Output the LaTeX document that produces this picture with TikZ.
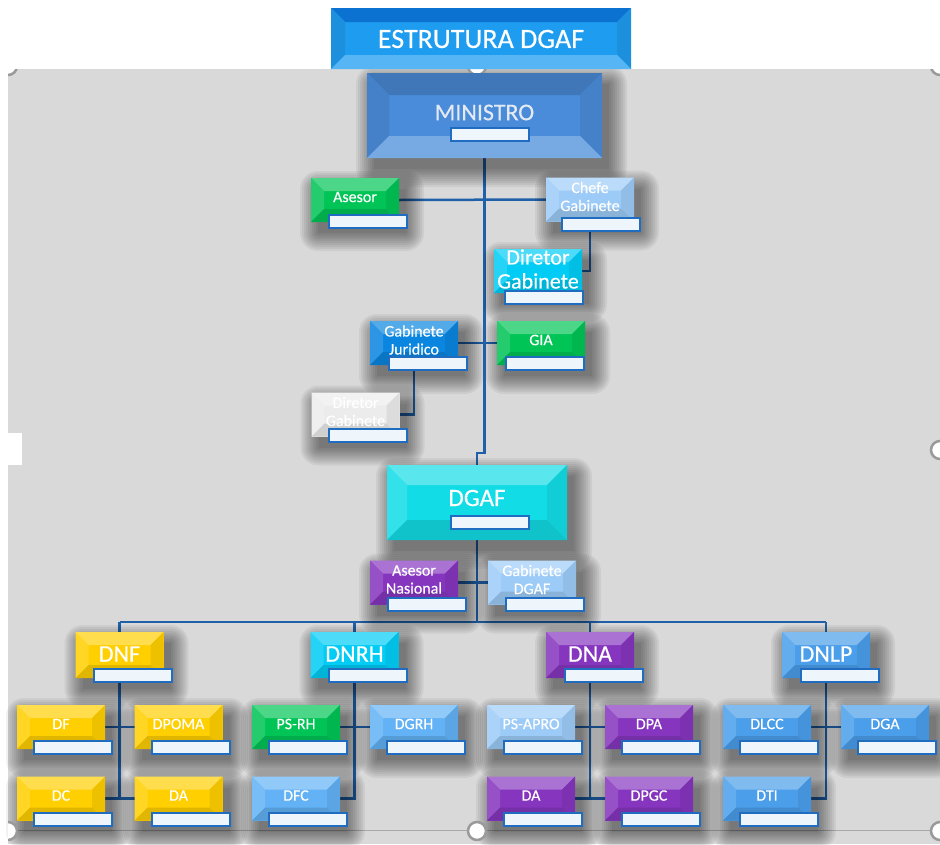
\documentclass[tikz,border=0pt]{standalone}
\usepackage{fontspec}
\setmainfont{Carlito}[FakeBold=0.4]
\usetikzlibrary{calc}
\pgfdeclarelayer{bg0}
\pgfdeclarelayer{background}
\pgfdeclarelayer{shadow}
\pgfsetlayers{bg0,background,shadow,main}

\definecolor{cBg}{HTML}{D9D9D9}
\definecolor{cTitle}{HTML}{1E9CF0}
\definecolor{cTitleD}{HTML}{0B72D2}
\definecolor{cMin}{HTML}{4A8CDA}
\definecolor{cMinT}{HTML}{E4EAF2}
\definecolor{cGreen}{HTML}{00C455}
\definecolor{cLBlue}{HTML}{9DCBF7}
\definecolor{cCyan}{HTML}{00CCF5}
\definecolor{cJur}{HTML}{0A85E0}
\definecolor{cWhiteBox}{HTML}{ECECEC}
\definecolor{cDGAF}{HTML}{12DCE6}
\definecolor{cPurple}{HTML}{8535BE}
\definecolor{cYellow}{HTML}{FFCF00}
\definecolor{cBlue}{HTML}{4A9EEA}
\definecolor{cMBlue}{HTML}{62B2F5}
\definecolor{cSub}{HTML}{EEF6FC}
\definecolor{cSubD}{HTML}{1F6CC0}
\definecolor{cLine}{HTML}{2060A8}
\definecolor{cHandle}{HTML}{9A9A9A}

\tikzset{
  sbox/.style={minimum width=88pt,minimum height=44pt,inner sep=0pt,outer sep=0pt},
  mbox/.style={minimum width=88pt,minimum height=46pt,inner sep=0pt,outer sep=0pt},
  txt/.style={text=white,align=center,inner sep=0pt,font=\fontsize{16}{18}\selectfont},
  subbox/.style={draw=cSubD,fill=cSub,line width=2pt,minimum width=78pt,minimum height=13pt,inner sep=0pt},
  conn/.style={draw=cLine,line width=2.5pt},
  handle/.style={draw=cHandle,fill=white,line width=2.5pt},
}

% soft shadow under a node
\newcommand\softshadow[1]{%
  \begin{pgfonlayer}{shadow}
    \foreach \k in {0,2,...,18}
      \fill[black,opacity=0.055,rounded corners=\k pt]
        ($(#1.south west)+(7-\k,11+\k)$) rectangle ($(#1.north east)+(7+\k,11-\k)$);
  \end{pgfonlayer}%
}
\newcommand\bevel[3]{%
  \fill[#2!70!white] (#1.north west) -- (#1.north east) -- ([xshift=-#3,yshift=-#3]#1.north east) -- ([xshift=#3,yshift=-#3]#1.north west) -- cycle;
  \fill[#2!86!white] (#1.north west) -- ([xshift=#3,yshift=-#3]#1.north west) -- ([xshift=#3,yshift=#3]#1.south west) -- (#1.south west) -- cycle;
  \fill[#2!93!black] (#1.north east) -- ([xshift=-#3,yshift=-#3]#1.north east) -- ([xshift=-#3,yshift=#3]#1.south east) -- (#1.south east) -- cycle;
  \fill[#2!88!black] (#1.south west) -- (#1.south east) -- ([xshift=-#3,yshift=#3]#1.south east) -- ([xshift=#3,yshift=#3]#1.south west) -- cycle;
}
\newcommand\bevelinv[4]{%
  \fill[#4] (#1.north west) -- (#1.north east) -- ([xshift=-#3,yshift=-#3]#1.north east) -- ([xshift=#3,yshift=-#3]#1.north west) -- cycle;
  \fill[#2!92!black] (#1.north west) -- ([xshift=#3,yshift=-#3]#1.north west) -- ([xshift=#3,yshift=#3]#1.south west) -- (#1.south west) -- cycle;
  \fill[#2!92!black] (#1.north east) -- ([xshift=-#3,yshift=-#3]#1.north east) -- ([xshift=-#3,yshift=#3]#1.south east) -- (#1.south east) -- cycle;
  \fill[#2!75!white] (#1.south west) -- (#1.south east) -- ([xshift=-#3,yshift=#3]#1.south east) -- ([xshift=#3,yshift=#3]#1.south west) -- cycle;
}
% name, x, y, size style, colour, inset, text, text dy, sub offset
\newcommand\obox[9]{%
  \node[#4,fill=#5] (#1) at (#2,#3) {};
  \softshadow{#1}%
  \bevel{#1}{#5}{#6}%
  \node[txt] (#1-t) at ($(#1.center)+(0,#8)$) {#7};
  \node[subbox] (#1-s) at ($(#1.center)+(#9)$) {};
}

\begin{document}
\begin{tikzpicture}[x=1pt,y=-1pt]
\useasboundingbox (0,0) rectangle (940,844);
\begin{pgfonlayer}{bg0}
  \fill[white] (0,0) rectangle (940,844);
  \fill[cBg] (8,69) rectangle (940,844);
  \fill[white] (8,433) rectangle (22,465);
  \draw[cHandle!85,line width=1.8pt] (8,830.5) -- (940,830.5);
\end{pgfonlayer}

% selection handles
\begin{scope}
  \clip (8,69) rectangle (940,844);
  \foreach \hx/\hy in {8/66,477/66,940/66,940/450,8/831,477/831,940/831}
    \draw[handle] (\hx,\hy) circle (9pt);
\end{scope}

% title
\node[minimum width=300pt,minimum height=61pt,inner sep=0pt,outer sep=0pt,fill=cTitle] (title) at (481,38.5) {};
\bevelinv{title}{cTitle}{14pt}{cTitleD}
\node[txt,font=\fontsize{28}{30}\selectfont] (title-t) at (481,39) {ESTRUTURA DGAF};

% ministro
\node[minimum width=235pt,minimum height=85pt,inner sep=0pt,outer sep=0pt,fill=cMin] (min) at (484.5,115.5) {};
\softshadow{min}
\bevelinv{min}{cMin}{22pt}{cMin!85!black}
\node[txt,text=cMinT,font=\fontsize{24}{26}\selectfont] (min-t) at (484.5,112.5) {MINISTRO};
\node[subbox] (min-s) at (490,134.5) {};

\obox{ase}{355}{200}{sbox}{cGreen}{13pt}{Asesor}{-3}{13,21}
\obox{che}{590}{199.5}{sbox}{cLBlue}{13pt}{Chefe\\Gabinete}{-3}{10.5,25}
\obox{dir}{538}{271}{sbox}{cCyan}{13pt}{\fontsize{22}{24}\selectfont Diretor\\[6pt]\fontsize{22}{24}\selectfont Gabinete}{-2}{6,26.5}
\obox{jur}{414}{343}{sbox}{cJur}{13pt}{Gabinete\\Juridico}{-3}{13.5,20}
\obox{gia}{541}{343}{sbox}{cGreen}{13pt}{GIA}{-3}{3.5,20}
\obox{dir2}{355.5}{414.5}{sbox}{cWhiteBox}{13pt}{Diretor\\Gabinete}{-3}{12.5,20.5}

% DGAF
\node[minimum width=180pt,minimum height=75pt,inner sep=0pt,outer sep=0pt,fill=cDGAF] (dgaf) at (477,502.5) {};
\softshadow{dgaf}
\bevel{dgaf}{cDGAF}{20pt}
\node[txt,font=\fontsize{25}{27}\selectfont] (dgaf-t) at (477,498) {DGAF};
\node[subbox] (dgaf-s) at (490,522.5) {};

\obox{asn}{414}{582.5}{sbox}{cPurple}{13pt}{Asesor\\Nasional}{-3}{13,22}
\obox{gdg}{532}{582.5}{sbox}{cLBlue}{13pt}{Gabinete\\DGAF}{-3}{12.5,22}

% level 3
\obox{dnf}{119.5}{655}{mbox}{cYellow}{13pt}{\fontsize{24}{26}\selectfont DNF}{-1}{13.5,20.5}
\obox{dnrh}{354.5}{655}{mbox}{cCyan}{13pt}{\fontsize{24}{26}\selectfont DNRH}{-1}{13.5,20.5}
\obox{dna}{590}{655}{mbox}{cPurple}{13pt}{\fontsize{24}{26}\selectfont DNA}{-1}{13.5,20.5}
\obox{dnlp}{826}{655}{mbox}{cBlue}{13pt}{\fontsize{24}{26}\selectfont DNLP}{-1}{13.5,20.5}

% level 4
\obox{df}{61}{727}{sbox}{cYellow}{13pt}{DF}{-3}{12,20.5}
\obox{dpoma}{178.5}{727}{sbox}{cYellow}{13pt}{DPOMA}{-3}{12,20.5}
\obox{dc}{61}{798.5}{sbox}{cYellow}{13pt}{DC}{-3}{12,20.5}
\obox{da}{178.5}{798.5}{sbox}{cYellow}{13pt}{DA}{-3}{12,20.5}

\obox{psrh}{296}{727}{sbox}{cGreen}{13pt}{PS-RH}{-3}{12,20.5}
\obox{dgrh}{414}{727}{sbox}{cMBlue}{13pt}{DGRH}{-3}{12,20.5}
\obox{dfc}{296}{798.5}{sbox}{cMBlue}{13pt}{DFC}{-3}{12,20.5}

\obox{psapro}{531}{727}{sbox}{cLBlue}{13pt}{PS-APRO}{-3}{12,20.5}
\obox{dpa}{649}{727}{sbox}{cPurple}{13pt}{DPA}{-3}{12,20.5}
\obox{dab}{531}{798.5}{sbox}{cPurple}{13pt}{DA}{-3}{12,20.5}
\obox{dpgc}{649}{798.5}{sbox}{cPurple}{13pt}{DPGC}{-3}{12,20.5}

\obox{dlcc}{767}{727}{sbox}{cBlue}{13pt}{DLCC}{-3}{12,20.5}
\obox{dga}{885}{727}{sbox}{cBlue}{13pt}{DGA}{-3}{12,20.5}
\obox{dti}{767}{798.5}{sbox}{cBlue}{13pt}{DTI}{-3}{12,20.5}

\coordinate (j1) at (477,453);
\coordinate (bus) at (0,622);

\begin{pgfonlayer}{background}
  \draw[conn] (min.south) -- (min.south |- j1) -- (j1) -- (dgaf.north);
  \draw[conn] (ase.east) -- (che.west);
  \draw[conn] (che.south) -- (che.south |- dir.east) -- (dir.east);
  \draw[conn] (jur.east) -- (gia.west);
  \draw[conn] (jur.south) -- (jur.south |- dir2.east) -- (dir2.east);
  \draw[conn] (asn.east) -- (gdg.west);
  \draw[conn] (dgaf.south) -- (dgaf.south |- bus);
  \draw[conn] (dnf.north |- bus) -- (dnlp.north |- bus);
  \foreach \n in {dnf,dnrh,dna,dnlp}
    \draw[conn] (\n.north |- bus) -- (\n.north);
  \draw[conn] (dnf.south) -- (dnf.south |- dc.east);
  \draw[conn] (df.east) -- (dpoma.west);
  \draw[conn] (dc.east) -- (da.west);
  \draw[conn] (dnrh.south) -- (dnrh.south |- dfc.east) -- (dfc.east);
  \draw[conn] (psrh.east) -- (dgrh.west);
  \draw[conn] (dna.south) -- (dna.south |- dab.east);
  \draw[conn] (psapro.east) -- (dpa.west);
  \draw[conn] (dab.east) -- (dpgc.west);
  \draw[conn] (dnlp.south) -- (dnlp.south |- dti.east) -- (dti.east);
  \draw[conn] (dlcc.east) -- (dga.west);
\end{pgfonlayer}
\end{tikzpicture}
\end{document}
